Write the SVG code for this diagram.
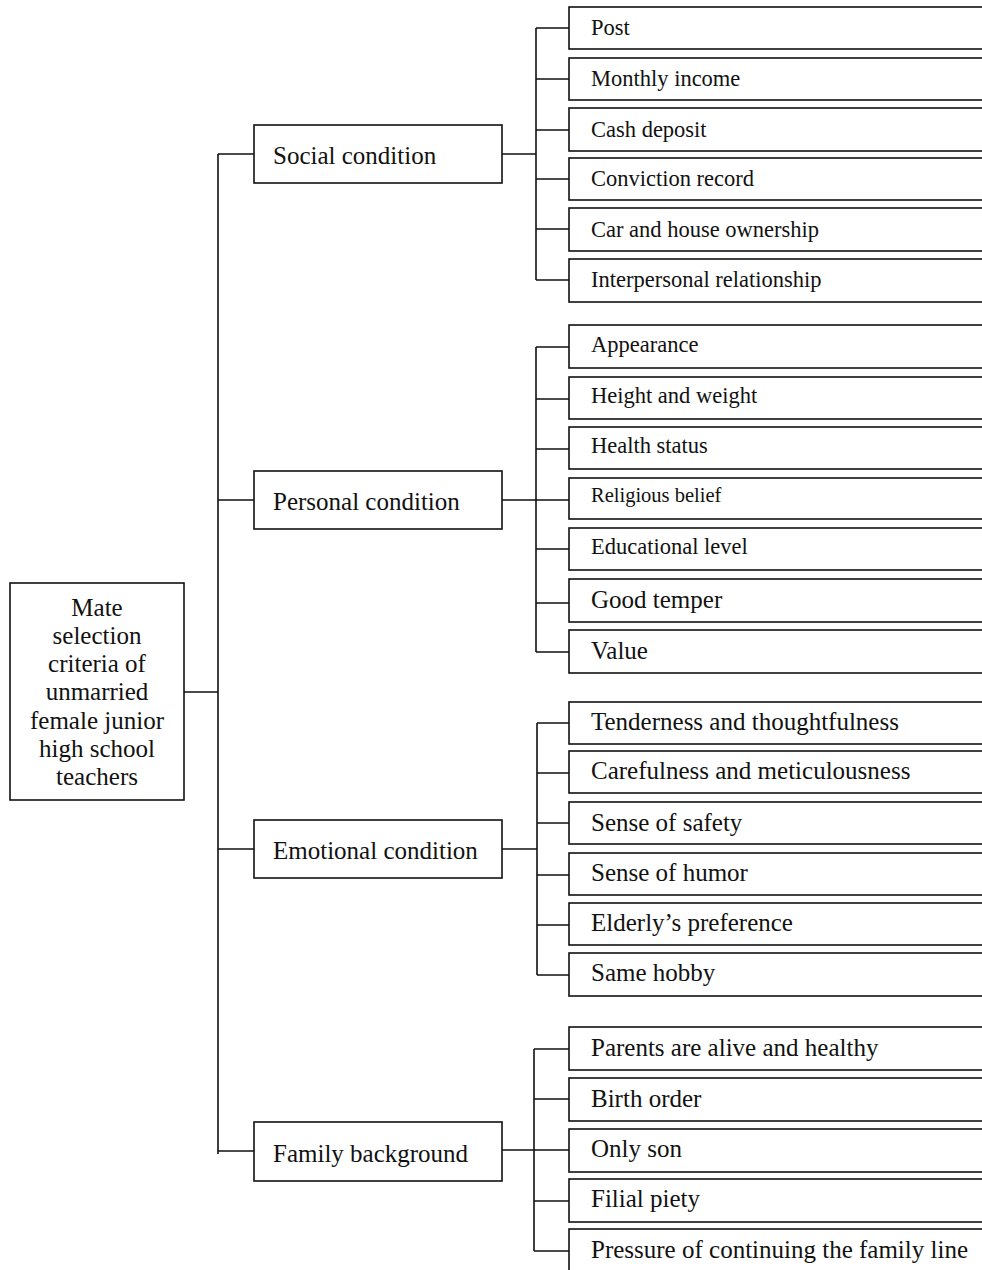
<svg xmlns="http://www.w3.org/2000/svg" width="982" height="1270" viewBox="0 0 982 1270">
<style>
.box{fill:#fff;stroke:#111;stroke-width:1.6}
.ln{fill:none;stroke:#111;stroke-width:1.6}
text{font-family:"Liberation Serif","Times New Roman",serif;fill:#111}
.l1{font-size:25px}
.s{font-size:22.5px}
.xs{font-size:20.5px}
.b{font-size:25px}
.root{font-size:25px;text-anchor:middle}
</style>
<rect width="982" height="1270" fill="#fff"/>
<g id="connectors">
<path class="ln" d="M184 692H218M218 154V1154M218 154H254M218 500H254M218 849H254M218 1151H254"/>
<path class="ln" d="M502 154H536M536 28V280M536 28H569M536 79H569M536 130H569M536 179H569M536 229H569M536 280H569"/>
<path class="ln" d="M502 500H536M536 347V652M536 347H569M536 399H569M536 449H569M536 500H569M536 549H569M536 603H569M536 652H569"/>
<path class="ln" d="M502 849H537M537 723V975M537 723H569M537 773H569M537 823H569M537 875H569M537 925H569M537 975H569"/>
<path class="ln" d="M502 1150H534M534 1049V1251M534 1049H569M534 1099H569M534 1150H569M534 1201H569M534 1251H569"/>
</g>
<g id="root"><rect class="box" x="10" y="583" width="174" height="217"/>
<text class="root" x="97"><tspan x="97" y="616">Mate</tspan><tspan x="97" y="644">selection</tspan><tspan x="97" y="672">criteria of</tspan><tspan x="97" y="700">unmarried</tspan><tspan x="97" y="729">female junior</tspan><tspan x="97" y="757">high school</tspan><tspan x="97" y="785">teachers</tspan></text></g>
<g id="social"><rect class="box" x="254" y="125" width="248" height="58"/><text class="l1" x="273" y="164">Social condition</text></g>
<g id="personal"><rect class="box" x="254" y="471" width="248" height="58"/><text class="l1" x="273" y="510">Personal condition</text></g>
<g id="emotional"><rect class="box" x="254" y="820" width="248" height="58"/><text class="l1" x="273" y="859">Emotional condition</text></g>
<g id="family"><rect class="box" x="254" y="1122" width="248" height="59"/><text class="l1" x="273" y="1162">Family background</text></g>
<g id="post"><rect class="box" x="569" y="7" width="425" height="42"/><text class="s" x="591" y="35">Post</text></g>
<g id="income"><rect class="box" x="569" y="58" width="425" height="42"/><text class="s" x="591" y="86">Monthly income</text></g>
<g id="cash"><rect class="box" x="569" y="108" width="425" height="43"/><text class="s" x="591" y="137">Cash deposit</text></g>
<g id="conviction"><rect class="box" x="569" y="158" width="425" height="42"/><text class="s" x="591" y="186">Conviction record</text></g>
<g id="car"><rect class="box" x="569" y="208" width="425" height="43"/><text class="s" x="591" y="237">Car and house ownership</text></g>
<g id="interpersonal"><rect class="box" x="569" y="259" width="425" height="43"/><text class="s" x="591" y="287">Interpersonal relationship</text></g>
<g id="appearance"><rect class="box" x="569" y="325" width="425" height="43"/><text class="s" x="591" y="352">Appearance</text></g>
<g id="height"><rect class="box" x="569" y="377" width="425" height="42"/><text class="s" x="591" y="403">Height and weight</text></g>
<g id="health"><rect class="box" x="569" y="427" width="425" height="42"/><text class="s" x="591" y="453">Health status</text></g>
<g id="religious"><rect class="box" x="569" y="478" width="425" height="41"/><text class="xs" x="591" y="502">Religious belief</text></g>
<g id="education"><rect class="box" x="569" y="528" width="425" height="42"/><text class="s" x="591" y="554">Educational level</text></g>
<g id="temper"><rect class="box" x="569" y="579" width="425" height="43"/><text class="b" x="591" y="608">Good temper</text></g>
<g id="value"><rect class="box" x="569" y="630" width="425" height="43"/><text class="b" x="591" y="659">Value</text></g>
<g id="tenderness"><rect class="box" x="569" y="702" width="425" height="42"/><text class="b" x="591" y="730">Tenderness and thoughtfulness</text></g>
<g id="carefulness"><rect class="box" x="569" y="751" width="425" height="42"/><text class="b" x="591" y="779">Carefulness and meticulousness</text></g>
<g id="safety"><rect class="box" x="569" y="802" width="425" height="42"/><text class="b" x="591" y="831">Sense of safety</text></g>
<g id="humor"><rect class="box" x="569" y="853" width="425" height="42"/><text class="b" x="591" y="881">Sense of humor</text></g>
<g id="elderly"><rect class="box" x="569" y="903" width="425" height="42"/><text class="b" x="591" y="931">Elderly’s preference</text></g>
<g id="hobby"><rect class="box" x="569" y="953" width="425" height="43"/><text class="b" x="591" y="981">Same hobby</text></g>
<g id="parents"><rect class="box" x="569" y="1027" width="425" height="43"/><text class="b" x="591" y="1056">Parents are alive and healthy</text></g>
<g id="birth"><rect class="box" x="569" y="1078" width="425" height="43"/><text class="b" x="591" y="1107">Birth order</text></g>
<g id="onlyson"><rect class="box" x="569" y="1129" width="425" height="43"/><text class="b" x="591" y="1157">Only son</text></g>
<g id="filial"><rect class="box" x="569" y="1179" width="425" height="43"/><text class="b" x="591" y="1207">Filial piety</text></g>
<g id="pressure"><rect class="box" x="569" y="1229" width="425" height="50"/><text class="b" x="591" y="1258">Pressure of continuing the family line</text></g>
</svg>
